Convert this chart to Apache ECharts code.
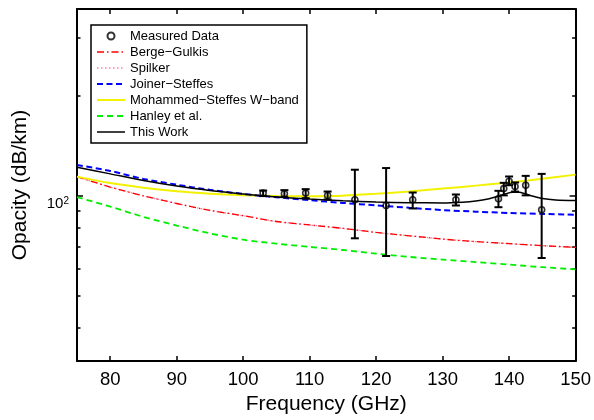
<!DOCTYPE html>
<html><head><meta charset="utf-8">
<script src="https://cdn.jsdelivr.net/npm/echarts@6/dist/echarts.min.js"></script>
<style>html,body{margin:0;padding:0;background:#fff}#c{width:594px;height:420px}</style>
</head><body><div id="c"></div>
<script>
// ---- data ----
const modelFreq       = [75, 80, 85, 90, 95, 100, 105, 110, 115, 120, 125, 130, 135, 140, 145, 150];
const bergeGulkis     = [114.0, 106.0, 99.8, 94.6, 90.2, 86.9, 83.5, 81.5, 79.6, 77.4, 75.6, 73.9, 72.6, 71.6, 70.6, 69.8];
const spilker         = [114.0, 106.0, 99.8, 94.6, 90.2, 86.9, 83.5, 81.5, 79.6, 77.4, 75.6, 73.9, 72.6, 71.6, 70.6, 69.8];
const joinerSteffes   = [123.6, 118.6, 112.2, 107.8, 104.0, 101.1, 98.8, 96.8, 95.0, 93.4, 91.8, 90.4, 89.4, 88.6, 88.0, 87.5];
const mohammedSteffes = [114.0, 109.0, 105.6, 103.0, 101.3, 100.2, 99.6, 99.5, 99.9, 101.2, 102.8, 104.9, 107.1, 109.5, 112.3, 115.6];
const hanley          = [98.9, 92.6, 86.2, 81.2, 76.9, 73.6, 71.6, 70.0, 68.5, 66.8, 65.3, 64.1, 63.0, 61.9, 60.8, 59.9];
const thisWorkFreq    = [75, 80, 85, 90, 95, 100, 105, 110, 115, 120, 125, 130, 133, 135, 137, 138.5, 139.5, 140.5, 141.5, 142.5, 143.5, 145, 147, 150];
const thisWork        = [121.6, 116.2, 111.0, 106.8, 103.6, 101.1, 99.0, 97.6, 96.4, 95.6, 95.1, 95.0, 95.5, 96.3, 97.8, 99.6, 101.2, 102.3, 102.2, 101.0, 99.6, 97.9, 97.0, 96.6];
const measFreq = [103.0, 106.2, 109.4, 112.7, 116.8, 121.5, 125.5, 132.0, 138.4, 139.2, 140.0, 140.9, 142.5, 144.9];
const measVal  = [101.7, 101.2, 101.7, 100.0, 97.1, 93.3, 97.1, 97.1, 97.8, 104.9, 110.4, 106.4, 107.4, 90.6];
const measHi   = [103.5, 103.8, 104.5, 102.8, 119.6, 121.0, 102.1, 100.7, 103.3, 109.2, 114.1, 109.5, 114.6, 116.2];
const measLo   = [99.6, 98.9, 98.2, 97.3, 74.3, 65.7, 91.4, 93.3, 92.2, 100.1, 107.4, 102.8, 100.1, 64.8];
const xTicks = [80, 90, 100, 110, 120, 130, 140, 150];
const yMajorTicks = [100];
const yMinorTicks = [40, 50, 60, 70, 80, 90, 200, 300];
const xMin = 75, xMax = 150, yMin = 31.7, yMax = 365;

const names = ['Measured Data', 'Berge\u2212Gulkis', 'Spilker', 'Joiner\u2212Steffes', 'Mohammed\u2212Steffes W\u2212band', 'Hanley et al.', 'This Work'];

// ---- chart ----
const FONT = '"Liberation Sans", Arial, Helvetica, sans-serif';
const lg = v => Math.log10(v);
const pair = (xs, ys) => xs.map((x, i) => [x, ys[i]]);

const styles = {
  berge:  {color: '#ff0000', width: 1.3, type: [7, 3, 1.5, 3]},
  spilk:  {color: '#ff7fb0', width: 1.3, type: [1.5, 2.5]},
  joiner: {color: '#0000ff', width: 2, type: [6, 3.5]},
  moham:  {color: '#f2f200', width: 2, type: 'solid'},
  hanley: {color: '#00ee00', width: 1.8, type: [6, 4]},
  tw:     {color: '#000000', width: 1.5, type: 'solid'}
};

function lineSeries(name, xs, ys, st, z) {
  return {
    name, type: 'line', xAxisIndex: 0, yAxisIndex: 0, data: pair(xs, ys),
    showSymbol: false, symbol: 'none', smooth: 0.3, z,
    lineStyle: {color: st.color, width: st.width, type: st.type},
    itemStyle: {color: st.color}
  };
}

function auxX(position, showLabel) {
  return {
    type: 'value', min: xMin, max: xMax, position, gridIndex: 0,
    axisLine: {show: true, onZero: false, lineStyle: {color: '#000', width: 2}},
    axisTick: {show: true, inside: true, length: 5, customValues: xTicks, lineStyle: {color: '#000', width: 1.5}},
    axisLabel: {show: showLabel, customValues: xTicks, fontSize: 18.5, margin: 9, color: '#000', fontFamily: FONT},
    splitLine: {show: false},
    name: showLabel ? 'Frequency (GHz)' : '',
    nameLocation: 'middle', nameGap: 33,
    nameTextStyle: {fontSize: 21, color: '#000', fontFamily: FONT}
  };
}

function auxY(position, ticks, len, showLine, showLabel) {
  return {
    type: 'value', min: lg(yMin), max: lg(yMax), position, gridIndex: 0,
    axisLine: {show: showLine, onZero: false, lineStyle: {color: '#000', width: 2}},
    axisTick: {show: true, inside: true, length: len, customValues: ticks.map(lg), lineStyle: {color: '#000', width: 1.5}},
    axisLabel: {
      show: showLabel, customValues: ticks.map(lg), margin: 8, color: '#000', fontFamily: FONT,
      padding: [16, 0, 0, 0],
      formatter: v => '{b|10}{s|' + Math.round(v) + '}',
      rich: {
        b: {fontSize: 15, lineHeight: 15, padding: [8, 0, 0, 0], verticalAlign: 'bottom', fontFamily: FONT, color: '#000'},
        s: {fontSize: 10, lineHeight: 10, verticalAlign: 'top', fontFamily: FONT, color: '#000'}
      }
    },
    splitLine: {show: false}
  };
}

const option = {
  animation: false,
  backgroundColor: '#fff',
  textStyle: {fontFamily: FONT},
  grid: {left: 77, right: 18, top: 9, bottom: 57, containLabel: false},
  xAxis: [auxX('bottom', true), auxX('top', false)],
  yAxis: [
    {
      type: 'log', logBase: 10, min: yMin, max: yMax, position: 'left',
      axisLine: {show: false}, axisTick: {show: false}, axisLabel: {show: false}, splitLine: {show: false},
      name: 'Opacity (dB/km)', nameLocation: 'middle', nameGap: 46,
      nameTextStyle: {fontSize: 21, color: '#000', fontFamily: FONT}
    },
    auxY('left', yMajorTicks, 6, true, true),
    auxY('left', yMinorTicks, 3.5, false, false),
    auxY('right', yMajorTicks, 6, true, false),
    auxY('right', yMinorTicks, 3.5, false, false)
  ],
  legend: {
    orient: 'vertical', left: 91, top: 25,
    itemWidth: 28, itemHeight: 7, itemGap: 0,
    padding: [3, 8, 3, 5],
    borderColor: '#000', borderWidth: 1.5, backgroundColor: '#fff',
    selectedMode: false,
    textStyle: {fontSize: 13, lineHeight: 16, color: '#000', fontFamily: FONT},
    data: [
      {name: names[0]},
      {name: names[1], itemStyle: {opacity: 0}, lineStyle: styles.berge},
      {name: names[2], itemStyle: {opacity: 0}, lineStyle: styles.spilk},
      {name: names[3], itemStyle: {opacity: 0}, lineStyle: styles.joiner},
      {name: names[4], itemStyle: {opacity: 0}, lineStyle: styles.moham},
      {name: names[5], itemStyle: {opacity: 0}, lineStyle: styles.hanley},
      {name: names[6], itemStyle: {opacity: 0}, lineStyle: styles.tw}
    ]
  },
  series: [
    lineSeries(names[5], modelFreq, hanley, styles.hanley, 2),
    lineSeries(names[2], modelFreq, spilker, styles.spilk, 2),
    lineSeries(names[1], modelFreq, bergeGulkis, styles.berge, 3),
    lineSeries(names[4], modelFreq, mohammedSteffes, styles.moham, 3),
    lineSeries(names[3], modelFreq, joinerSteffes, styles.joiner, 4),
    lineSeries(names[6], thisWorkFreq, thisWork, styles.tw, 5),
    {
      name: 'errorbars', type: 'custom', xAxisIndex: 0, yAxisIndex: 0, z: 6,
      data: measFreq.map((f, i) => [f, measLo[i], measHi[i]]),
      encode: {x: 0, y: [1, 2]},
      renderItem: (params, api) => {
        const f = api.value(0);
        const pl = api.coord([f, api.value(1)]);
        const ph = api.coord([f, api.value(2)]);
        const cap = 4;
        const st = {stroke: '#000', lineWidth: 2};
        return {type: 'group', children: [
          {type: 'line', shape: {x1: ph[0], y1: ph[1], x2: pl[0], y2: pl[1]}, style: st},
          {type: 'line', shape: {x1: ph[0] - cap, y1: ph[1], x2: ph[0] + cap, y2: ph[1]}, style: st},
          {type: 'line', shape: {x1: pl[0] - cap, y1: pl[1], x2: pl[0] + cap, y2: pl[1]}, style: st}
        ]};
      }
    },
    {
      name: names[0], type: 'scatter', xAxisIndex: 0, yAxisIndex: 0, z: 7,
      data: pair(measFreq, measVal), symbol: 'circle', symbolSize: 6,
      itemStyle: {color: 'rgba(255,255,255,0)', borderColor: '#000', borderWidth: 1.6}
    }
  ]
};
const chart = echarts.init(document.getElementById('c'));
chart.setOption(option);
</script></body></html>
